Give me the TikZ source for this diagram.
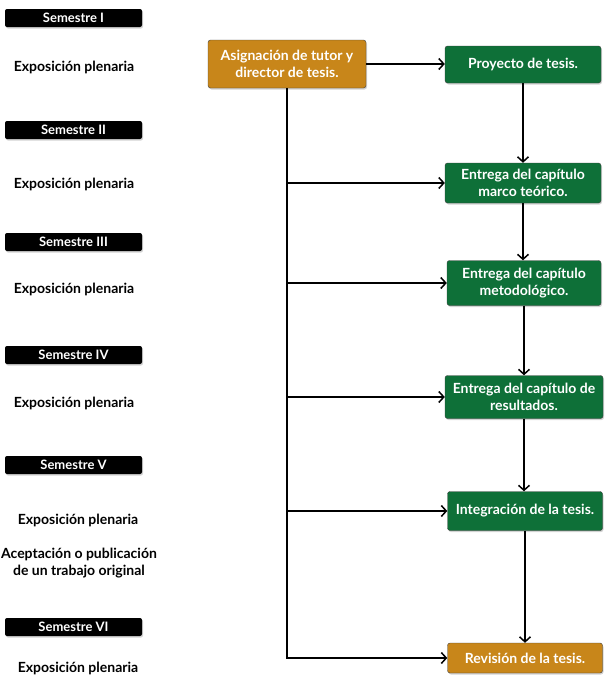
\documentclass[tikz,border=0pt]{standalone}
\usepackage{fontspec}
\setmainfont{Lato}
\usetikzlibrary{arrows.meta,shadows}

\definecolor{oro}{HTML}{C8861A}
\definecolor{verde}{HTML}{0E7038}

\tikzset{
    semestre/.style={fill=black, rounded corners=2pt, minimum width=137pt, minimum height=18pt,
        inner sep=0pt, text=white, font=\bfseries\fontsize{13}{15}\selectfont,
        drop shadow={opacity=0.35, shadow xshift=1pt, shadow yshift=-1.5pt}},
    actividad/.style={font=\bfseries\fontsize{14}{17}\selectfont, align=center, inner sep=0pt},
    tarea/.style={draw=black!75, fill=verde, rounded corners=2.5pt, text=white, align=center,
        font=\bfseries\fontsize{14}{17}\selectfont, minimum width=156pt, inner sep=0pt,
        drop shadow={opacity=0.35, shadow xshift=1pt, shadow yshift=-1.5pt}},
    hito/.style={tarea, fill=oro},
    flecha/.style={-{Straight Barb[length=5pt,width=11pt,line width=1.5pt]}, line width=1.5pt}
}

\begin{document}
\begin{tikzpicture}[x=1pt,y=1pt]
    \useasboundingbox (0,0) rectangle (612,-680);
    % semestres
    \node[semestre] (s1) at (73.5,-18) {Semestre I};
    \node[semestre] (s2) at (73.5,-130) {Semestre II};
    \node[semestre] (s3) at (73.5,-242) {Semestre III};
    \node[semestre] (s4) at (73.5,-355) {Semestre IV};
    \node[semestre] (s5) at (73.5,-465) {Semestre V};
    \node[semestre] (s6) at (73.5,-627) {Semestre VI};
    % actividades
    \node[actividad] (e1) at (74,-67) {Exposición plenaria};
    \node[actividad] (e2) at (74,-184) {Exposición plenaria};
    \node[actividad] (e3) at (74,-289) {Exposición plenaria};
    \node[actividad] (e4) at (74,-403) {Exposición plenaria};
    \node[actividad] (e5) at (78,-520) {Exposición plenaria};
    \node[actividad] (acep) at (79,-563) {Aceptación o publicación\\de un trabajo original};
    \node[actividad] (e6) at (78,-668) {Exposición plenaria};
    % etapas de la tesis
    \node[hito, minimum width=158pt, minimum height=48pt] (asig) at (287,-64) {Asignación de tutor y\\director de tesis.};
    \node[tarea, minimum height=37pt] (proy) at (523,-64.5) {Proyecto de tesis.};
    \node[tarea, minimum height=40pt] (marco) at (523,-183) {Entrega del capítulo\\marco teórico.};
    \node[tarea, minimum width=154pt, minimum height=45pt] (meto) at (524,-283) {Entrega del capítulo\\metodológico.};
    \node[tarea, minimum width=158pt, minimum height=43pt] (resu) at (524,-397) {Entrega del capítulo de\\resultados.};
    \node[tarea, minimum width=155pt, minimum height=39pt] (inte) at (525,-511) {Integración de la tesis.};
    \node[hito, minimum width=155pt, minimum height=30pt] (revi) at (525,-658) {Revisión de la tesis.};
    % conexiones
    \draw[flecha] (asig.east) -- (asig.east -| proy.west);
    \draw[flecha] (asig.south) |- (revi.west);
    \foreach \n in {marco,meto,resu,inte}
        \draw[flecha] (asig.south |- \n.west) -- (\n.west);
    \draw[flecha] (proy.south) -- (proy.south |- marco.north);
    \draw[flecha] (marco.south) -- (marco.south |- meto.north);
    \draw[flecha] (meto.south) -- (meto.south |- resu.north);
    \draw[flecha] (resu.south) -- (resu.south |- inte.north);
    \draw[flecha] (inte.south) -- (inte.south |- revi.north);
\end{tikzpicture}
\end{document}
